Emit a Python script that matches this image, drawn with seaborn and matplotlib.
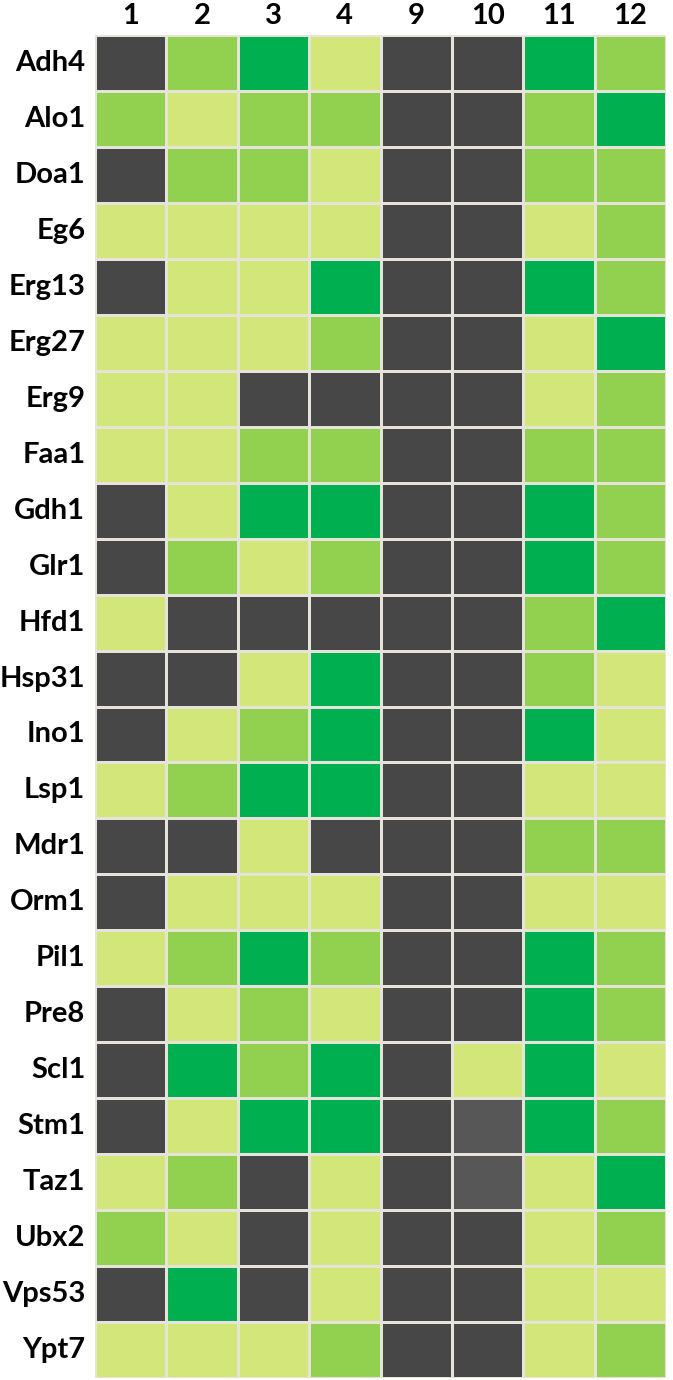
import matplotlib
matplotlib.use("Agg")
import matplotlib.pyplot as plt
import seaborn as sns
import numpy as np
import pandas as pd
from matplotlib.colors import ListedColormap, BoundaryNorm

# 0 = no data (dark grey), 1 = light green, 2 = mid green, 3 = dark green, 4 = lighter grey
genes = ["Adh4", "Alo1", "Doa1", "Eg6", "Erg13", "Erg27", "Erg9", "Faa1", "Gdh1",
         "Glr1", "Hfd1", "Hsp31", "Ino1", "Lsp1", "Mdr1", "Orm1", "Pil1", "Pre8",
         "Scl1", "Stm1", "Taz1", "Ubx2", "Vps53", "Ypt7"]
samples = ["1", "2", "3", "4", "9", "10", "11", "12"]

col_1 = [0, 2, 0, 1, 0, 1, 1, 1, 0, 0, 1, 0, 0, 1, 0, 0, 1, 0, 0, 0, 1, 2, 0, 1]
col_2 = [2, 1, 2, 1, 1, 1, 1, 1, 1, 2, 0, 0, 1, 2, 0, 1, 2, 1, 3, 1, 2, 1, 3, 1]
col_3 = [3, 2, 2, 1, 1, 1, 0, 2, 3, 1, 0, 1, 2, 3, 1, 1, 3, 2, 2, 3, 0, 0, 0, 1]
col_4 = [1, 2, 1, 1, 3, 2, 0, 2, 3, 2, 0, 3, 3, 3, 0, 1, 2, 1, 3, 3, 1, 1, 1, 2]
col_9 = [0, 0, 0, 0, 0, 0, 0, 0, 0, 0, 0, 0, 0, 0, 0, 0, 0, 0, 0, 0, 0, 0, 0, 0]
col_10 = [0, 0, 0, 0, 0, 0, 0, 0, 0, 0, 0, 0, 0, 0, 0, 0, 0, 0, 1, 4, 4, 0, 0, 0]
col_11 = [3, 2, 2, 1, 3, 1, 1, 2, 3, 3, 2, 2, 3, 1, 2, 1, 3, 3, 3, 3, 1, 1, 1, 1]
col_12 = [2, 3, 2, 2, 2, 3, 2, 2, 2, 2, 3, 1, 1, 1, 2, 1, 2, 2, 1, 2, 3, 2, 1, 2]

palette = ["#474747", "#d2e679", "#92d050", "#00b050", "#575757"]

df = pd.DataFrame(
    np.column_stack([col_1, col_2, col_3, col_4, col_9, col_10, col_11, col_12]),
    index=genes, columns=samples,
)

cmap = ListedColormap(palette)
norm = BoundaryNorm(np.arange(-0.5, len(palette) + 0.5), cmap.N)

fig = plt.figure(figsize=(6.73, 13.8), dpi=100)
ax = fig.add_axes([95 / 673, 1 - 1378 / 1380, 571 / 673, (1378 - 35) / 1380])

sns.heatmap(df, ax=ax, cmap=cmap, norm=norm, cbar=False,
            linewidths=1.8, linecolor="#e6e4da", square=False)

ax.xaxis.tick_top()
ax.tick_params(axis="y", length=0, pad=7)
ax.tick_params(axis="x", length=0, pad=4)
ax.set_xticklabels(samples, rotation=0, fontsize=21, fontweight="bold", family="Lato")
ax.set_yticklabels(genes, rotation=0, fontsize=21, fontweight="bold", family="Lato")
ax.set_xlabel("")
ax.set_ylabel("")

fig.savefig("out.png", dpi=100, facecolor="white")
plt.close(fig)
